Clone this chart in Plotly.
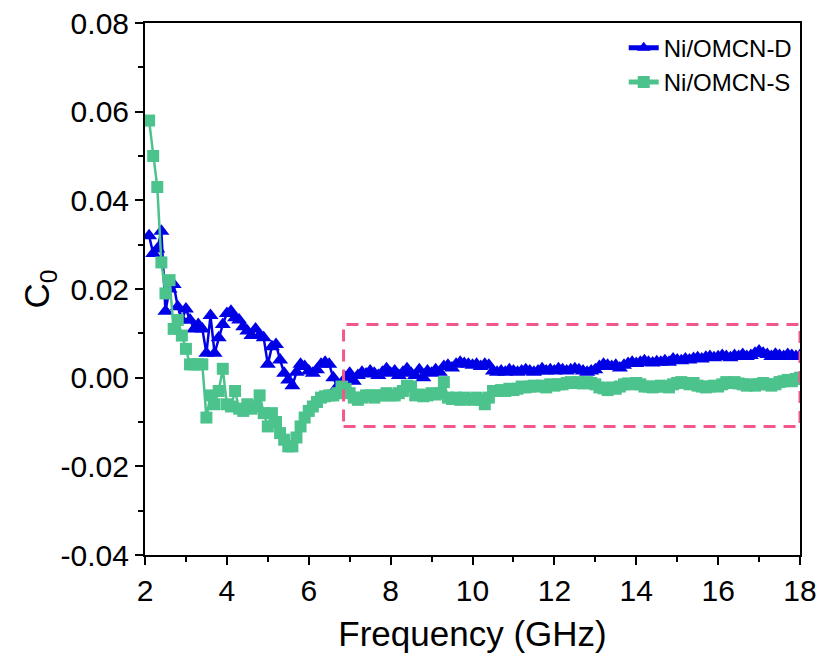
import numpy as np
import plotly.graph_objects as go

# Frequency grid (GHz)
freq = np.round(np.arange(2.1, 18.05, 0.1), 2)

# Ni/OMCN-D
c0_D = [
    0.032, 0.028, 0.029, 0.033, 0.015, 0.020, 0.021, 0.016, 0.013,          # 2.1-2.9
    0.0155, 0.013, 0.011, 0.012, 0.011, 0.0055, 0.014, 0.0055, 0.009, 0.012,  # 3.0-3.9
    0.0145, 0.015, 0.0135, 0.013, 0.0115, 0.0105, 0.0095, 0.011, 0.0095, 0.009,  # 4.0-4.9
    0.003, 0.007, 0.0075, 0.004, 0.001, -0.0005, -0.0018, 0.0012, 0.003, 0.0025,  # 5.0-5.9
    0.0015, 0.001, 0.0018, 0.003, 0.0035, 0.003, 0.0, -0.002, -0.0015, 0.0,  # 6.0-6.9
    0.001, -0.0008, 0.0005, 0.0012, 0.0008, 0.0015, 0.001, 0.0005, 0.0012, 0.002,  # 7.0-7.9
    0.001, 0.0015, 0.0005, 0.0012, 0.002, 0.001, 0.0005, 0.0018, 0.0, 0.0015,  # 8.0-8.9
    0.001, 0.0018, 0.0012, 0.0025, 0.0028, 0.0022, 0.003, 0.0035, 0.0032, 0.003,  # 9.0-9.9
    0.0028, 0.003, 0.0025, 0.003, 0.0028, 0.0015, 0.0012, 0.0015, 0.0012, 0.0018,  # 10.0-10.9
    0.0015, 0.0012, 0.0015, 0.0018, 0.0015, 0.0012, 0.0015, 0.002, 0.0015, 0.0018,  # 11.0-11.9
    0.0015, 0.002, 0.0018, 0.0015, 0.0018, 0.002, 0.0018, 0.0015, 0.0012, 0.0015,  # 12.0-12.9
    0.0018, 0.0025, 0.003, 0.0028, 0.0025, 0.0028, 0.0022, 0.0028, 0.0032, 0.0035,  # 13.0-13.9
    0.0032, 0.0035, 0.0038, 0.0035, 0.0033, 0.0036, 0.0035, 0.0038, 0.0035, 0.0042,  # 14.0-14.9
    0.004, 0.0038, 0.0042, 0.004, 0.0043, 0.0045, 0.0042, 0.0046, 0.0048, 0.0045,  # 15.0-15.9
    0.0047, 0.005, 0.0048, 0.0045, 0.005, 0.0048, 0.0052, 0.0048, 0.005, 0.0055,  # 16.0-16.9
    0.006, 0.0055, 0.0052, 0.0048, 0.0053, 0.005, 0.0048, 0.0052, 0.005, 0.0048,  # 17.0-17.9
    0.005,  # 18.0
]

# Ni/OMCN-S
c0_S = [
    0.058, 0.050, 0.043, 0.026, 0.019, 0.022, 0.011, 0.013, 0.0095,          # 2.1-2.9
    0.0065, 0.003, 0.003, 0.003, 0.003, -0.009, -0.004, -0.006, -0.003, 0.002,  # 3.0-3.9
    -0.006, -0.0065, -0.003, -0.007, -0.0075, -0.006, -0.007, -0.0065, -0.004, -0.008,  # 4.0-4.9
    -0.011, -0.008, -0.010, -0.0125, -0.014, -0.0155, -0.0155, -0.0135, -0.011, -0.009,  # 5.0-5.9
    -0.0075, -0.0065, -0.0055, -0.0045, -0.0042, -0.004, -0.004, -0.0035, -0.002, -0.0025,  # 6.0-6.9
    -0.0035, -0.0045, -0.005, -0.0045, -0.004, -0.004, -0.0045, -0.004, -0.004, -0.0035,  # 7.0-7.9
    -0.004, -0.004, -0.0035, -0.003, -0.0018, -0.002, -0.004, -0.0038, -0.0042, -0.004,  # 8.0-8.9
    -0.0035, -0.0038, -0.0035, -0.001, -0.0045, -0.0048, -0.0045, -0.005, -0.0045, -0.0048,  # 9.0-9.9
    -0.005, -0.0045, -0.005, -0.006, -0.0045, -0.003, -0.003, -0.0028, -0.003, -0.0025,  # 10.0-10.9
    -0.0028, -0.0025, -0.002, -0.0022, -0.002, -0.0018, -0.002, -0.0018, -0.0022, -0.0015,  # 11.0-11.9
    -0.0018, -0.0015, -0.0015, -0.0012, -0.001, -0.0012, -0.001, -0.0013, -0.001, -0.0012,  # 12.0-12.9
    -0.0015, -0.0022, -0.0024, -0.0028, -0.0022, -0.0025, -0.002, -0.0015, -0.0013, -0.0015,  # 13.0-13.9
    -0.0012, -0.0015, -0.002, -0.002, -0.0022, -0.002, -0.0018, -0.002, -0.0022, -0.0015,  # 14.0-14.9
    -0.0012, -0.001, -0.0012, -0.0015, -0.0012, -0.0018, -0.002, -0.0022, -0.002, -0.0018,  # 15.0-15.9
    -0.002, -0.0015, -0.001, -0.0012, -0.001, -0.0013, -0.0015, -0.0018, -0.0015, -0.0018,  # 16.0-16.9
    -0.0015, -0.0012, -0.0015, -0.0018, -0.0015, -0.001, -0.0008, -0.0005, -0.0008, -0.0003,  # 17.0-17.9
    0.0,  # 18.0
]

assert len(c0_D) == len(freq) and len(c0_S) == len(freq)

# Tick labels
x_ticks = [2, 4, 6, 8, 10, 12, 14, 16, 18]
y_ticks = [-0.04, -0.02, 0.0, 0.02, 0.04, 0.06, 0.08]
y_ticklabels = ["-0.04", "-0.02", "0.00", "0.02", "0.04", "0.06", "0.08"]

# Highlight box bounds (data coords)
box_x = [6.85, 18.0]
box_y = [-0.011, 0.012]

BLUE = "#0000E6"
GREEN = "#4CC38C"
PINK = "#F2588E"
FONT = "Arial, Liberation Sans, sans-serif"

fig = go.Figure()
fig.add_trace(go.Scatter(
    x=freq, y=c0_D, mode="lines+markers", name="Ni/OMCN-D",
    line=dict(color=BLUE, width=2.5),
    marker=dict(symbol="triangle-up", size=14, color=BLUE),
))
fig.add_trace(go.Scatter(
    x=freq, y=c0_S, mode="lines+markers", name="Ni/OMCN-S",
    line=dict(color=GREEN, width=2.5),
    marker=dict(symbol="square", size=12, color=GREEN),
))

fig.add_shape(type="rect", xref="x", yref="y",
              x0=box_x[0], x1=box_x[1], y0=box_y[0], y1=box_y[1],
              line=dict(color=PINK, width=3, dash="12px,8px"),
              fillcolor="rgba(0,0,0,0)", layer="above")

axis_common = dict(
    showgrid=False, zeroline=False, showline=True, linecolor="black", linewidth=2,
    mirror=True, ticks="outside", ticklen=8, tickwidth=1.5, tickcolor="black",
    tickfont=dict(family=FONT, size=30, color="black"), automargin=False,
)

fig.update_xaxes(
    range=[2, 18], tickvals=x_ticks, ticktext=[str(v) for v in x_ticks],
    minor=dict(dtick=1, tick0=2, ticks="outside", ticklen=5, tickwidth=1.5, tickcolor="black"),
    title=dict(text="Frequency (GHz)", font=dict(family=FONT, size=35, color="black"), standoff=15),
    **axis_common,
)
fig.update_yaxes(
    range=[-0.04, 0.08], tickvals=y_ticks, ticktext=y_ticklabels,
    minor=dict(dtick=0.01, tick0=0, ticks="outside", ticklen=5, tickwidth=1.5, tickcolor="black"),
    title=dict(text="C<sub>0</sub>", font=dict(family=FONT, size=35, color="black"), standoff=0),
    **axis_common,
)

fig.update_layout(
    width=821, height=661,
    margin=dict(l=145, r=21, t=23, b=106, autoexpand=False),
    paper_bgcolor="white", plot_bgcolor="white",
    showlegend=True,
    legend=dict(x=0.995, y=0.995, xanchor="right", yanchor="top",
                bgcolor="rgba(0,0,0,0)", borderwidth=0,
                font=dict(family=FONT, size=24, color="black"),
                tracegroupgap=0, itemsizing="constant"),
)

fig.write_html("out.html")
